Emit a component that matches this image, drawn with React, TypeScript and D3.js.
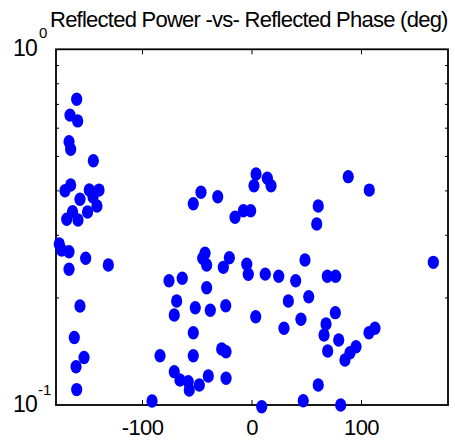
import React from "react";
import * as d3 from "d3";

const phaseDeg: number[] = [
  -160.1, -166.2, -159.2, -167.1, -165.6, -144.9, -165.6, -170.8, -148.6, -139.7,
  -157.1, -145.2, -141.6, -150.2, -163.9, -169.2, -158.9, -176.0, -173.8, -167.1,
  -151.9, -131.2, -167.1, -157.1, -162.3, -153.4, -160.7, -160.1, -91.3,
  -46.6, -31.3, -53.6, 3.7, 14.0, 1.8, 17.4, -15.5, -7.9, -1.2,
  -42.9, -45.0, -41.4, -20.7, -26.2, -4.8, -3.4, 12.1, -75.8, -63.7,
  -41.4, -68.8, -51.8, -38.1, -24.0, -71.0, 3.4, -53.6, -84.0, -53.6,
  -27.7, -23.7, -71.0, -65.8, -58.2, -57.3, -48.1, -39.9, -23.7, 8.9,
  87.9, 107.1, 60.5, 59.1, 48.4, 24.4, 39.9, 68.8, 76.4, 165.6,
  33.2, 51.8, 44.7, 29.2, 76.1, 67.6, 65.8, 79.2, 69.1, 95.0,
  89.5, 84.9, 106.8, 112.3, 60.5, 46.8, 81.0,
];

const reflPower: number[] = [
  0.7235, 0.653, 0.629, 0.55, 0.5235, 0.486, 0.4154, 0.4004, 0.4022, 0.402,
  0.3787, 0.3844, 0.3626, 0.3487, 0.3494, 0.3327, 0.3312, 0.2836, 0.2728, 0.2698,
  0.2585, 0.2475, 0.2407, 0.1898, 0.1548, 0.136, 0.1281, 0.1105, 0.1026,
  0.3963, 0.3851, 0.368, 0.4461, 0.4339, 0.4136, 0.4136, 0.337, 0.3517, 0.3517,
  0.267, 0.2585, 0.2475, 0.2595, 0.2438, 0.2486, 0.2331, 0.2333, 0.2236, 0.2271,
  0.2137, 0.1961, 0.1877, 0.1846, 0.1902, 0.1791, 0.1771, 0.1597, 0.1376, 0.1376,
  0.1437, 0.1412, 0.1241, 0.1176, 0.1163, 0.1102, 0.1138, 0.1207, 0.1189, 0.0989,
  0.4385, 0.402, 0.3626, 0.3227, 0.2557, 0.2301, 0.2236, 0.2301, 0.2301, 0.2518,
  0.1961, 0.2016, 0.1742, 0.1643, 0.1818, 0.1689, 0.1573, 0.1523, 0.1418, 0.1458,
  0.1403, 0.1338, 0.1597, 0.1643, 0.1138, 0.1028, 0.1,
];

const xTicks: number[] = [-100, 0, 100];
const yMinorTicks: number[] = [0.2, 0.3, 0.4, 0.5, 0.6, 0.7, 0.8, 0.9];
const titleText = "Reflected Power -vs- Reflected Phase (deg)";

const W = 455;
const H = 442;
const left = 56;
const right = 448;
const top = 49.3;
const bottom = 405;

export default function App() {
  const x = d3.scaleLinear().domain([-179, 179]).range([left, right]);
  const y = d3.scaleLog().domain([0.1, 1]).range([bottom, top]);
  const font = "'Liberation Sans', Arial, sans-serif";
  const pts = phaseDeg.map((p, i) => ({ p, v: reflPower[i] }));

  return (
    <svg
      width={W}
      height={H}
      style={{ position: "absolute", left: 0, top: 0, background: "#fff" }}
      fontFamily={font}
    >
      <rect x={0} y={0} width={W} height={H} fill="#fff" />
      {xTicks.map((t) => (
        <g key={"xt" + t}>
          <line x1={x(t)} x2={x(t)} y1={bottom} y2={bottom - 5} stroke="#000" strokeWidth={1} />
          <line x1={x(t)} x2={x(t)} y1={top} y2={top + 5} stroke="#000" strokeWidth={1} />
          <text
            x={x(t)}
            y={435}
            fontSize={22}
            textAnchor="middle"
            fill="#000"
            letterSpacing={-0.6}
          >
            {t}
          </text>
        </g>
      ))}
      {yMinorTicks.map((t) => (
        <g key={"yt" + t}>
          <line x1={left} x2={left + 3} y1={y(t)} y2={y(t)} stroke="#000" strokeWidth={1} />
          <line x1={right} x2={right - 3} y1={y(t)} y2={y(t)} stroke="#000" strokeWidth={1} />
        </g>
      ))}
      <rect
        x={left}
        y={top}
        width={right - left}
        height={bottom - top}
        fill="none"
        stroke="#000"
        strokeWidth={1.8}
      />
      {pts.map((d, i) => (
        <ellipse key={i} cx={x(d.p)} cy={y(d.v)} rx={5.6} ry={6.7} fill="#0000ff" />
      ))}
      <text x={13} y={56} fontSize={23} fill="#000" letterSpacing={-0.8}>
        10
      </text>
      <text x={39} y={38} fontSize={15} fill="#000">
        0
      </text>
      <text x={13} y={412} fontSize={23} fill="#000" letterSpacing={-0.8}>
        10
      </text>
      <text x={38} y={395} fontSize={15} fill="#000">
        -1
      </text>
      <text x={50} y={27} fontSize={22} fill="#000" letterSpacing={-0.75}>
        {titleText}
      </text>
    </svg>
  );
}
